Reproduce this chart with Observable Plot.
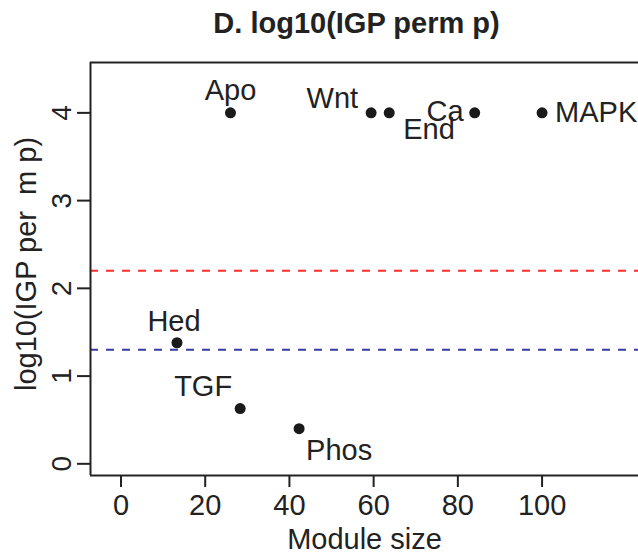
<!DOCTYPE html>
<html>
<head>
<meta charset="utf-8">
<script src="https://cdn.jsdelivr.net/npm/d3@7"></script>
<script src="https://cdn.jsdelivr.net/npm/@observablehq/plot@0.6"></script>
<style>
  html, body { margin: 0; padding: 0; background: #fff; }
  #chart svg { display: block; }
</style>
</head>
<body>
<div id="chart"></div>
<script>
// ---- data ----
const pathways = ["Apo", "Wnt", "End", "Ca", "MAPK", "Hed", "TGF", "Phos"];
const moduleSize = [26, 59.4, 63.7, 84, 100, 13.3, 28.3, 42.3];
const log10p = [4, 4, 4, 4, 4, 1.38, 0.63, 0.40];
const redThreshold = [2.2];
const blueThreshold = [1.3];
const xTicks = [0, 20, 40, 60, 80, 100];
const yTicks = [0, 1, 2, 3, 4];
const titleText = "D. log10(IGP perm p)";
const xLabel = "Module size";
const yLabel = "log10(IGP per\u00a0 m p)";

// ---- presentation ----
const labelPlacement = {
  Apo:  {dx: 0,   dy: -22, anchor: "middle"},
  Wnt:  {dx: -13, dy: -14, anchor: "end"},
  End:  {dx: 14,  dy: 17,  anchor: "start"},
  Ca:   {dx: -11, dy: -1,  anchor: "end"},
  MAPK: {dx: 13,  dy: 0,   anchor: "start"},
  Hed:  {dx: -3,  dy: -21, anchor: "middle"},
  TGF:  {dx: -8,  dy: -22, anchor: "end"},
  Phos: {dx: 7,   dy: 22,  anchor: "start"}
};
const xDomain = [-7.24, 122.9];
const yDomain = [-0.133, 4.574];
const ink = "#222";
const font = "'Liberation Sans', Arial, Helvetica, sans-serif";

const rows = pathways.map((p, i) => ({name: p, size: moduleSize[i], value: log10p[i]}));

const labelMarks = rows.map(r => {
  const pl = labelPlacement[r.name];
  return Plot.text([r], {
    x: "size", y: "value", text: "name",
    dx: pl.dx, dy: pl.dy, textAnchor: pl.anchor,
    fontSize: 29, fill: ink
  });
});

const chart = Plot.plot({
  width: 638,
  height: 553,
  marginTop: 62,
  marginBottom: 78,
  marginLeft: 90,
  marginRight: 0,
  style: {fontFamily: font, background: "#fff", color: ink, overflow: "visible"},
  x: {domain: xDomain},
  y: {domain: yDomain},
  marks: [
    // threshold lines
    Plot.ruleY(redThreshold, {stroke: "#ff2e2e", strokeWidth: 2, strokeDasharray: "8,8"}),
    Plot.ruleY(blueThreshold, {stroke: "#3b3ba6", strokeWidth: 2, strokeDasharray: "8,8"}),
    // box (top, bottom, left)
    Plot.ruleY([yDomain[0], yDomain[1]], {stroke: ink, strokeWidth: 2}),
    Plot.ruleX([xDomain[0]], {stroke: ink, strokeWidth: 2}),
    // x axis
    Plot.axisX({ticks: xTicks, tickSize: 12, tickPadding: 7, fontSize: 29, label: null, tickFormat: d => String(d), strokeWidth: 2}),
    // y axis ticks + rotated labels
    Plot.axisY({ticks: yTicks, tickSize: 13, label: null, tickFormat: () => "", strokeWidth: 2}),
    Plot.text(yTicks, {x: xDomain[0], y: d => d, text: d => String(d), rotate: -90, lineAnchor: "bottom", textAnchor: "middle", dx: -20, fontSize: 28, fill: ink}),
    // points
    Plot.dot(rows, {x: "size", y: "value", r: 5.5, fill: "#1a1a1a", stroke: null}),
    ...labelMarks,
    // axis titles
    Plot.text([xLabel], {frameAnchor: "bottom", lineAnchor: "bottom", dy: 73, fontSize: 29, fill: ink}),
    Plot.text([yLabel], {frameAnchor: "left", rotate: -90, lineAnchor: "bottom", textAnchor: "middle", dx: -55, dy: -5, fontSize: 29, fill: ink}),
    // title
    Plot.text([titleText], {frameAnchor: "top", lineAnchor: "bottom", dy: -29.5, dx: -8, fontSize: 29, fontWeight: "bold", fill: ink})
  ]
});

document.getElementById("chart").appendChild(chart);
</script>
</body>
</html>
